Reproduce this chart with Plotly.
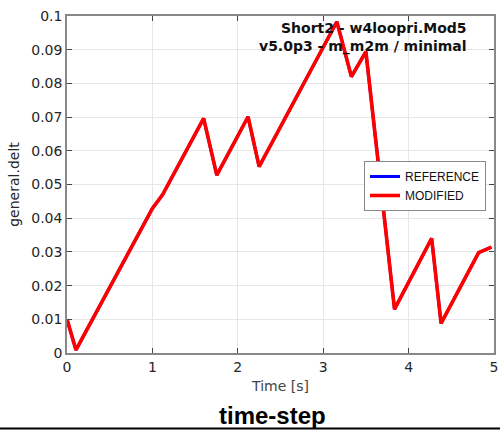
import plotly.graph_objects as go

time_s = [0.0, 0.105, 1.0, 1.12, 1.6, 1.754, 2.12, 2.25, 3.16, 3.33, 3.50, 3.835, 4.27, 4.38, 4.82, 4.97]
delt_modified = [0.0100, 0.0009, 0.0429, 0.0470, 0.0696, 0.0528, 0.0701, 0.0553, 0.0983, 0.0820, 0.0894, 0.0130, 0.0340, 0.0088, 0.0298, 0.0314]
delt_reference = delt_modified  # reference identical, hidden beneath

x_ticks = [0, 1, 2, 3, 4, 5]
y_ticks = [0, 0.01, 0.02, 0.03, 0.04, 0.05, 0.06, 0.07, 0.08, 0.09, 0.1]
y_tick_text = ["0", "0.01", "0.02", "0.03", "0.04", "0.05", "0.06", "0.07", "0.08", "0.09", "0.1"]

L, R, T, B = 67, 6, 16, 77
PW, PH = 500 - L - R, 430 - T - B

fig = go.Figure()
fig.add_trace(go.Scatter(x=time_s, y=delt_reference, mode="lines", name="REFERENCE",
                         line=dict(color="#0000ff", width=3)))
fig.add_trace(go.Scatter(x=time_s, y=delt_modified, mode="lines", name="MODIFIED",
                         line=dict(color="#ff0000", width=3.6)))

axis_common = dict(showgrid=True, gridcolor="#e6e6e6", gridwidth=1,
                   showline=True, linecolor="#888888", linewidth=1.5, mirror="ticks",
                   ticks="inside", ticklen=5, tickcolor="#444444",
                   tickfont=dict(family="DejaVu Sans", size=14, color="#262626"),
                   zeroline=False, automargin=False)

fig.update_layout(
    width=500, height=430,
    margin=dict(l=L, r=R, t=T, b=B),
    paper_bgcolor="white", plot_bgcolor="white",
    showlegend=True,
    legend=dict(x=(364 - L) / PW, y=1 - (161 - T) / PH, xanchor="left", yanchor="top",
                bordercolor="#888888", borderwidth=1, bgcolor="white",
                font=dict(family="Liberation Sans", size=12, color="#111111"),
                tracegroupgap=0, itemwidth=30),
    xaxis=dict(range=[0, 5], tickvals=x_ticks, **axis_common,
               title=dict(text="Time [s]", font=dict(family="DejaVu Sans", size=14, color="#444444"),
                          standoff=8)),
    yaxis=dict(range=[0, 0.1], tickvals=y_ticks, ticktext=y_tick_text, **axis_common,
               title=dict(text="general.delt", font=dict(family="DejaVu Sans", size=14, color="#262626"),
                          standoff=8)),
)

fig.add_annotation(xref="paper", yref="paper", x=(469 - L) / PW, y=1 - (18 - T) / PH,
                   xanchor="right", yanchor="top", align="right", showarrow=False,
                   text="<b>Short2 - w4loopri.Mod5</b><br><b>v5.0p3 - m_m2m / minimal</b>",
                   font=dict(family="DejaVu Sans", size=14, color="#111111"))
fig.add_annotation(xref="paper", yref="paper", x=(272 - L) / PW, y=-(416 - 353) / PH,
                   xanchor="center", yanchor="middle", showarrow=False,
                   text="<b>time-step</b>",
                   font=dict(family="Liberation Sans", size=24, color="#000000"))
fig.add_shape(type="line", xref="paper", yref="paper",
              x0=-L / PW, x1=1 + R / PW, y0=-(428.5 - 353) / PH, y1=-(428.5 - 353) / PH,
              line=dict(color="black", width=2))

fig.write_html("out.html", config={"displayModeBar": False},
               post_script="document.body.style.margin='0';document.body.style.padding='0';document.body.style.overflow='hidden';")
